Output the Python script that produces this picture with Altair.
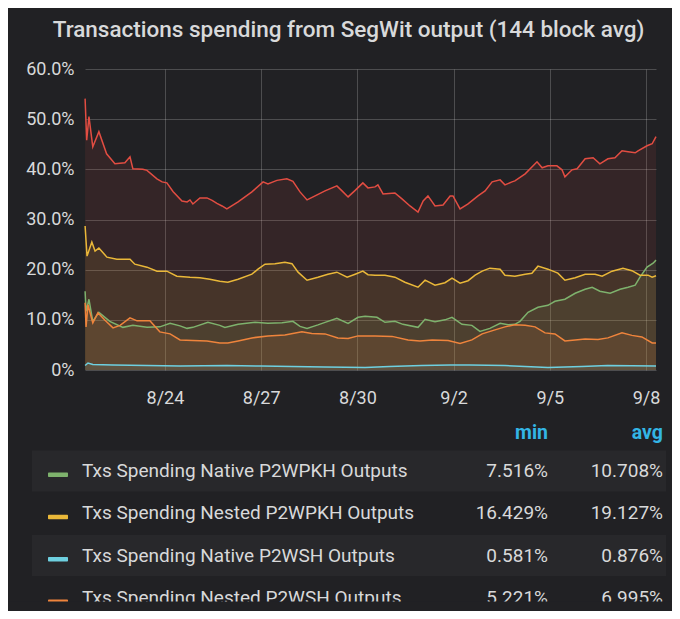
import altair as alt
import pandas as pd

# ---------------- data (day offsets from 2018-08-24 00:00, values in %) ----------------
BASE = pd.Timestamp("2018-08-24")

red_t = [-2.49, -2.44, -2.37, -2.25, -2.06, -1.82, -1.56, -1.25, -1.09, -1.00, -0.69, -0.56, -0.25, -0.09,
         0.06, 0.25, 0.53, 0.69, 0.78, 0.87, 1.09, 1.31, 1.47, 1.62, 1.78, 1.93, 2.28, 2.71, 3.06, 3.21,
         3.49, 3.80, 3.99, 4.21, 4.43, 4.68, 4.99, 5.36, 5.52, 5.71, 5.93, 6.17, 6.33, 6.55, 6.64, 6.80,
         7.17, 7.39, 7.64, 7.89, 8.05, 8.20, 8.42, 8.67, 8.89, 8.98, 9.20, 9.45, 9.76, 9.98, 10.20, 10.45,
         10.60, 10.82, 10.91, 11.23, 11.60, 11.76, 11.94, 12.22, 12.38, 12.47, 12.69, 12.85, 13.10, 13.35,
         13.56, 13.81, 14.03, 14.25, 14.44, 14.66, 14.75, 15.03, 15.19, 15.31]
red_v = [54.1, 45.8, 50.5, 44.5, 47.5, 43.1, 41.1, 41.3, 42.5, 40.1, 40.0, 39.8, 38.1, 37.5,
         37.3, 35.6, 33.7, 33.5, 33.9, 33.1, 34.3, 34.3, 33.8, 33.2, 32.7, 32.1, 33.5, 35.5, 37.5, 37.1,
         37.8, 38.1, 37.6, 35.5, 33.9, 34.7, 35.7, 36.7, 35.7, 34.5, 35.8, 37.3, 36.3, 36.5, 36.9, 35.1,
         35.3, 34.1, 32.7, 31.5, 33.7, 34.7, 32.7, 32.9, 34.7, 34.7, 32.1, 33.1, 34.7, 35.7, 37.5, 37.9,
         36.9, 37.5, 37.7, 39.1, 41.5, 40.3, 40.7, 40.7, 39.9, 38.5, 39.9, 40.1, 42.1, 42.3,
         41.1, 42.1, 42.3, 43.7, 43.5, 43.3, 43.7, 44.7, 45.1, 46.5]

yellow_t = [-2.49, -2.43, -2.28, -2.18, -2.06, -1.81, -1.50, -1.09, -0.94, -0.56, -0.25, 0.06, 0.37, 0.78,
            1.09, 1.40, 1.71, 1.96, 2.28, 2.71, 2.90, 3.12, 3.43, 3.74, 3.96, 4.15, 4.43, 4.77, 5.08, 5.36,
            5.68, 5.93, 6.17, 6.33, 6.55, 6.86, 7.17, 7.48, 7.89, 8.11, 8.42, 8.73, 8.95, 9.20, 9.45, 9.67,
            9.89, 10.13, 10.45, 10.60, 10.91, 11.23, 11.44, 11.63, 11.94, 12.25, 12.47, 12.79, 13.10, 13.41,
            13.63, 13.94, 14.28, 14.56, 14.81, 15.06, 15.19, 15.31]
yellow_v = [28.7, 22.7, 25.5, 23.7, 24.3, 22.5, 22.1, 22.1, 21.1, 20.5, 19.7, 19.7, 18.7, 18.5,
            18.4, 18.1, 17.7, 17.5, 18.1, 19.1, 20.1, 21.1, 21.2, 21.5, 21.2, 19.5, 17.9, 18.5, 19.1, 19.5,
            18.5, 19.1, 19.7, 19.0, 18.9, 18.9, 18.5, 17.5, 16.5, 17.9, 16.9, 17.4, 18.3, 17.3, 17.8, 18.9,
            19.7, 20.3, 20.1, 18.9, 18.7, 19.1, 19.3, 20.7, 20.1, 19.3, 17.9, 18.4, 19.1, 19.1,
            18.7, 19.7, 20.3, 19.8, 18.9, 18.9, 18.5, 18.8]

green_t = [-2.49, -2.46, -2.37, -2.25, -2.06, -1.72, -1.31, -1.00, -0.56, -0.16, 0.16, 0.47, 0.69, 0.87,
           1.34, 1.71, 1.87, 2.28, 2.81, 3.21, 3.65, 3.99, 4.21, 4.43, 4.77, 4.99, 5.36, 5.71, 6.02, 6.24,
           6.61, 6.86, 7.17, 7.42, 7.89, 8.11, 8.42, 8.73, 8.95, 9.26, 9.57, 9.82, 10.13, 10.45, 10.70,
           10.91, 11.07, 11.32, 11.63, 11.94, 12.16, 12.47, 12.79, 13.10, 13.32, 13.56, 13.88, 14.19,
           14.44, 14.66, 14.81, 15.03, 15.22, 15.31]
green_v = [15.7, 11.7, 14.1, 9.7, 11.5, 9.7, 8.5, 8.9, 8.5, 8.6, 9.3, 8.8, 8.3, 8.5,
           9.5, 8.9, 8.5, 9.1, 9.5, 9.3, 9.4, 9.7, 8.7, 8.3, 9.0, 9.5, 10.3, 9.3, 10.5, 10.7,
           10.5, 9.5, 9.7, 9.1, 8.5, 10.1, 9.6, 10.0, 10.5, 9.1, 8.9, 7.7, 8.3, 9.3, 9.0,
           9.1, 9.7, 11.5, 12.5, 12.9, 13.7, 14.1, 15.3, 16.1, 16.5, 15.7, 15.3, 16.1,
           16.5, 16.9, 18.5, 20.5, 21.3, 21.9]

cyan_t = [-2.49, -2.40, -2.25, -1.62, -0.56, 0.47, 1.93, 3.00, 3.96, 4.99, 6.24, 7.00, 8.00, 8.90,
          9.50, 10.60, 11.94, 13.00, 13.80, 15.31]
cyan_v = [0.9, 1.4, 1.1, 1.0, 0.9, 0.8, 0.9, 0.8, 0.7, 0.6, 0.5, 0.7, 0.9, 1.0,
          1.0, 0.9, 0.5, 0.7, 0.9, 0.8]

orange_t = [-2.49, -2.46, -2.40, -2.25, -2.09, -1.87, -1.62, -1.40, -1.09, -0.87, -0.47, -0.16, 0.16,
            0.47, 0.87, 1.31, 1.71, 1.96, 2.28, 2.71, 3.21, 3.74, 4.27, 4.58, 4.99, 5.39, 5.71, 6.02,
            6.55, 7.08, 7.58, 7.95, 8.33, 8.83, 9.20, 9.57, 9.89, 10.29, 10.60, 10.91, 11.23, 11.54,
            11.85, 12.16, 12.47, 12.79, 13.10, 13.50, 13.81, 14.25, 14.56, 14.87, 15.19, 15.31]
orange_v = [13.4, 8.6, 13.0, 9.4, 11.4, 9.9, 8.4, 8.9, 10.4, 9.8, 9.8, 7.6, 7.2,
            6.0, 5.9, 5.8, 5.4, 5.4, 5.8, 6.4, 6.8, 7.0, 7.6, 7.3, 7.2, 6.4, 6.3, 6.8,
            6.8, 6.7, 6.0, 5.8, 6.0, 5.9, 5.3, 6.0, 7.2, 8.0, 8.6, 9.0, 8.9, 8.6,
            7.4, 7.2, 5.8, 6.0, 6.2, 6.1, 6.4, 7.4, 6.9, 6.6, 5.4, 5.4]

series_names = ["Txs Spending SegWit Outputs",
                "Txs Spending Native P2WPKH Outputs",
                "Txs Spending Nested P2WPKH Outputs",
                "Txs Spending Native P2WSH Outputs",
                "Txs Spending Nested P2WSH Outputs"]
series_colors = ["#E24D42", "#7EB26D", "#EAB839", "#6ED0E0", "#EF843C"]
series_data = [(red_t, red_v), (green_t, green_v), (yellow_t, yellow_v), (cyan_t, cyan_v), (orange_t, orange_v)]

legend_names = series_names[1:]
legend_min = ["7.516%", "16.429%", "0.581%", "5.221%"]
legend_avg = ["10.708%", "19.127%", "0.876%", "6.995%"]
headers = ["min", "avg"]

x_ticks = [(8, 24), (8, 27), (8, 30), (9, 2), (9, 5), (9, 8)]

TITLE = "Transactions spending from SegWit output (144 block avg)"

# ---------------- build tables ----------------
rows = []
for name, (ts, vs) in zip(series_names, series_data):
    for t, v in zip(ts, vs):
        rows.append({"series": name, "time": BASE + pd.Timedelta(days=t), "value": v})
df = pd.DataFrame(rows)

leg_df = pd.DataFrame({"row": list(range(len(legend_names))), "series": legend_names,
                       "mn": legend_min, "av": legend_avg})
hdr_df = pd.DataFrame({"label": headers})

# ---------------- style ----------------
BG = "#212124"
BAND = "#28282b"
TXT = "#d8d9da"
BLUE = "#33b5e5"
FONT = "Roboto"
LFS = 19

color = alt.Color("series:N", scale=alt.Scale(domain=series_names, range=series_colors), legend=None)

x_enc = alt.X("time:T", title=None,
              scale=alt.Scale(domain=[alt.DateTime(year=2018, month=8, date=21, hours=12, minutes=10),
                                      alt.DateTime(year=2018, month=9, date=8, hours=7, minutes=26)]),
              axis=alt.Axis(values=[alt.DateTime(year=2018, month=m, date=d) for m, d in x_ticks],
                            format="%-m/%-d", labelFontSize=18, labelColor=TXT, labelFont=FONT,
                            labelPadding=19, ticks=False, domain=False, grid=True,
                            gridColor="#ffffff", gridOpacity=0.2, labelFlush=False))
y_enc = alt.Y("value:Q", title=None, stack=None,
              scale=alt.Scale(domain=[0, 60], nice=False),
              axis=alt.Axis(values=[0, 10, 20, 30, 40, 50, 60],
                            labelExpr="datum.value == 0 ? '0%' : format(datum.value, '.1f') + '%'",
                            labelFontSize=18, labelColor=TXT, labelFont=FONT, labelPadding=11,
                            ticks=False, domain=False, grid=True, gridColor="#ffffff", gridOpacity=0.2))

base = alt.Chart(df)
areas = base.mark_area(opacity=0.1).encode(x=x_enc, y=y_enc, color=color, detail="series:N")
lines = base.mark_line(strokeWidth=1.5).encode(x=x_enc, y=y_enc, color=color, detail="series:N")

# ---------------- legend table ----------------
ROW0 = 402
STEP = 42.3
leg = alt.Chart(leg_df).transform_calculate(
    yc=f"{ROW0} + {STEP} * datum.row",
    yb1=f"{ROW0} + {STEP} * datum.row - 20.5",
    yb2=f"{ROW0} + {STEP} * datum.row + 20.5",
    ys1=f"{ROW0} + {STEP} * datum.row + 1.5",
    ys2=f"{ROW0} + {STEP} * datum.row + 6",
)
bands = leg.transform_filter("datum.row % 2 == 0").mark_rect(color=BAND).encode(
    x=alt.value(-53), x2=alt.value(581),
    y=alt.Y("yb1:Q", scale=None), y2="yb2:Q")
swatches = leg.mark_rect(cornerRadius=1).encode(
    x=alt.value(-37), x2=alt.value(-17),
    y=alt.Y("ys1:Q", scale=None), y2="ys2:Q", color=color)
names = leg.mark_text(align="left", baseline="middle", fontSize=LFS, font=FONT, color=TXT).encode(
    x=alt.value(-3), y=alt.Y("yc:Q", scale=None), text="series:N")
mins = leg.mark_text(align="right", baseline="middle", fontSize=LFS, font=FONT, color=TXT).encode(
    x=alt.value(463), y=alt.Y("yc:Q", scale=None), text="mn:N")
avgs = leg.mark_text(align="right", baseline="middle", fontSize=LFS, font=FONT, color=TXT).encode(
    x=alt.value(578), y=alt.Y("yc:Q", scale=None), text="av:N")
hdrs = alt.Chart(hdr_df).transform_calculate(
    hx="datum.label == 'min' ? 463 : 578"
).mark_text(align="right", baseline="middle", fontSize=19.5, font=FONT, fontWeight="bold", color=BLUE).encode(
    x=alt.X("hx:Q", scale=None), y=alt.value(364), text="label:N")
mask = leg.transform_filter("datum.row == 0").mark_rect(color=BG).encode(
    x=alt.value(-77), x2=alt.value(587), y=alt.value(532.5), y2=alt.value(545))

chart = alt.layer(areas, lines, bands, swatches, names, mins, avgs, hdrs, mask).properties(
    width=571, height=301,
    autosize=alt.AutoSizeParams(type="none"),
    padding={"left": 77, "top": 61, "right": 16, "bottom": 241},
    background=BG,
    title=alt.Title(TITLE, fontSize=22.5, font=FONT, fontWeight=500, color=TXT,
                    anchor="middle", dx=-22, dy=22, offset=23, baseline="alphabetic"),
).configure_view(stroke=None)

chart.save("out.html", embed_options={"renderer": "svg", "actions": False})
